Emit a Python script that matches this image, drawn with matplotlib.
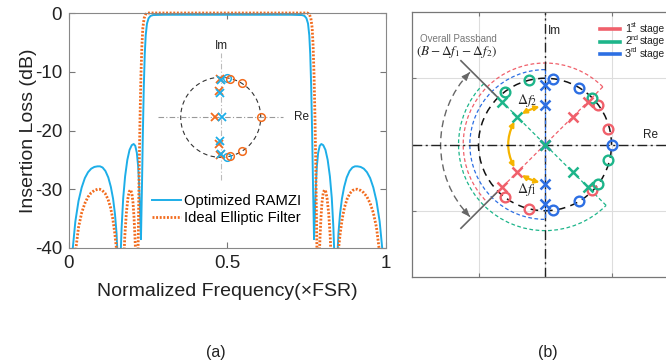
import numpy as np
import matplotlib.pyplot as plt
from matplotlib.patches import Rectangle, Circle, Arc, FancyArrowPatch
from matplotlib.lines import Line2D

plt.rcParams['font.family'] = ['Liberation Sans', 'DejaVu Sans']
plt.rcParams['mathtext.fontset'] = 'stix'
plt.rcParams['axes.unicode_minus'] = False

# ---------------- (a) data ----------------
freq_ramzi = [0.0, 0.012, 0.02, 0.03, 0.04, 0.05, 0.06, 0.07, 0.08, 0.09, 0.098, 0.106, 0.115,
              0.124, 0.132, 0.139, 0.145, 0.150, 0.153, 0.158, 0.163, 0.166, 0.171, 0.177, 0.184,
              0.191, 0.198, 0.204, 0.209, 0.214, 0.218, 0.221, 0.224, 0.227, 0.230, 0.233, 0.236,
              0.239, 0.242, 0.246, 0.251, 0.257, 0.265, 0.3,
              0.7, 0.735, 0.743, 0.749, 0.754, 0.758, 0.761, 0.764, 0.767, 0.770, 0.773, 0.776,
              0.779, 0.782, 0.786, 0.791, 0.796, 0.802, 0.809, 0.816, 0.823, 0.829, 0.834, 0.837,
              0.842, 0.847, 0.850, 0.855, 0.861, 0.868, 0.876, 0.885, 0.894, 0.902, 0.91, 0.92,
              0.93, 0.94, 0.95, 0.96, 0.97, 0.98, 0.988, 1.0]
loss_ramzi = [-60, -40, -35.5, -32, -29.7, -28.1, -27.1, -26.5, -26.2, -26.1, -26.1, -26.3, -26.9,
              -28.0, -29.6, -31.6, -34.2, -37.5, -41, -60, -41, -36.5, -31.5, -27.8, -25.0,
              -23.3, -22.5, -22.3, -22.6, -23.8, -26.0, -29, -33.5, -38.5, -30, -20.5, -12.5,
              -7, -3.8, -1.8, -0.9, -0.5, -0.35, -0.3,
              -0.3, -0.35, -0.5, -0.9, -1.8, -3.8, -7, -12.5, -20.5, -30, -38.5, -33.5,
              -29, -26.0, -23.8, -22.6, -22.3, -22.5, -23.3, -25.0, -27.8, -31.5, -36.5, -41,
              -60, -41, -37.5, -34.2, -31.6, -29.6, -28.0, -26.9, -26.3, -26.1, -26.1, -26.2,
              -26.5, -27.1, -28.1, -29.7, -32, -35.5, -40, -60]

freq_ellip = [0.0, 0.019, 0.022, 0.03, 0.04, 0.05, 0.06, 0.07, 0.08, 0.09, 0.097, 0.105, 0.114,
              0.123, 0.131, 0.138, 0.144, 0.149, 0.152, 0.163, 0.173, 0.176, 0.181, 0.186, 0.190,
              0.194, 0.198, 0.202, 0.205, 0.208, 0.211, 0.215, 0.218, 0.221, 0.224, 0.227, 0.230,
              0.233, 0.237, 0.242, 0.248, 0.3,
              0.7, 0.752, 0.758, 0.763, 0.767, 0.770, 0.773, 0.776, 0.779, 0.782, 0.785, 0.789,
              0.792, 0.795, 0.798, 0.802, 0.806, 0.810, 0.814, 0.819, 0.824, 0.827, 0.837, 0.848,
              0.851, 0.856, 0.862, 0.869, 0.877, 0.886, 0.895, 0.903, 0.91, 0.92, 0.93, 0.94,
              0.95, 0.96, 0.97, 0.978, 0.981, 1.0]
loss_ellip = [-60, -42, -40, -36.5, -34, -32.4, -31.3, -30.6, -30.2, -30.0, -30.0, -30.2, -30.7,
              -31.7, -33.1, -35, -37.3, -39.8, -42, -60, -42, -38, -34, -31.5, -30.4,
              -30.1, -30.6, -32.3, -34.7, -38, -42, -60, -40, -28, -18, -10.5, -5.5,
              -2.5, -0.9, -0.2, 0, 0,
              0, 0, -0.2, -0.9, -2.5, -5.5, -10.5, -18, -28, -40, -60, -42,
              -38, -34.7, -32.3, -30.6, -30.1, -30.4, -31.5, -34, -38, -42, -60, -42,
              -39.8, -37.3, -35, -33.1, -31.7, -30.7, -30.2, -30.0, -30.0, -30.2, -30.6, -31.3,
              -32.4, -34, -36.5, -40, -42, -60]

# inset pole/zero map (unit circle coordinates)
ell_zero_x = [0.22, 0.53, 1.0, 0.53, 0.22]
ell_zero_y = [0.97, 0.85, 0.0, -0.85, -0.97]
ram_zero_x = [0.15, 0.15]
ram_zero_y = [0.99, -0.99]
ell_pole_x = [-0.03, -0.04, -0.14, -0.04, -0.03]
ell_pole_y = [0.96, 0.67, 0.0, -0.67, -0.94]
ram_pole_x = [0.0, -0.01, 0.03, -0.01, 0.0]
ram_pole_y = [0.93, 0.60, 0.0, -0.60, -0.92]

# ---------------- (b) data ----------------
stage_names = ['1', '2', '3']
stage_sup = ['st', 'nd', 'rd']
stage_colors = ['#F0606B', '#1DB58A', '#2D6FE3']
stage_axis_deg = [45, 135, 90]        # direction of the pole line
stage_arc_r = [1.23, 1.30, 1.13]
zeros_x = [[0.79, 0.95, 0.70, -0.24, -0.60],
           [0.70, -0.24, -0.60, 0.95, 0.79],
           [0.125, 0.51, 1.0, 0.51, 0.125]]
zeros_y = [[0.59, 0.23, -0.69, -0.97, -0.79],
           [0.70, 0.97, 0.80, -0.23, -0.59],
           [0.99, 0.85, 0.0, -0.85, -0.99]]
poles_x = [[0.64, 0.42, 0.0, -0.42, -0.64],
           [-0.64, -0.42, 0.0, 0.42, 0.64],
           [0.0, 0.0, 0.0, 0.0, 0.0]]
poles_y = [[0.64, 0.42, 0.0, -0.42, -0.64],
           [0.64, 0.42, 0.0, -0.42, -0.64],
           [0.90, 0.59, 0.0, -0.59, -0.90]]
passband_edges_deg = [135, 225]
passband_arc_r = 1.57

blue = '#1DAEE8'
orange = '#F26B1D'
gold = '#F5B400'
W, H = 666, 364

fig = plt.figure(figsize=(6.66, 3.64), dpi=100)

# ================= panel (a) =================
axa = fig.add_axes([69 / W, (H - 248) / H, 317 / W, 235 / H])
clip = Rectangle((0, 0), 1, 1.02, transform=axa.transAxes)
l1, = axa.plot(freq_ramzi, loss_ramzi, color=blue, lw=1.4, label='Optimized RAMZI')
l2, = axa.plot(freq_ellip, loss_ellip, color=orange, lw=2.0, ls=(0, (0.7, 0.6)),
               label='Ideal Elliptic Filter')
for ln in (l1, l2):
    ln.set_clip_path(clip)
axa.set_xlim(0, 1)
axa.set_ylim(-40, 0)
axa.set_xticks([0, 0.5, 1])
axa.set_xticklabels(['0', '0.5', '1'])
axa.set_yticks([-40, -30, -20, -10, 0])
axa.tick_params(direction='in', length=4, top=True, right=True, labelsize=13.5,
                color='#777777', labelcolor='#222222', pad=5)
for s in axa.spines.values():
    s.set_color('#888888')
    s.set_linewidth(0.8)
axa.set_xlabel('Normalized Frequency(×FSR)', fontsize=14, color='#222222', labelpad=8)
axa.set_ylabel('Insertion Loss (dB)', fontsize=14, color='#222222', labelpad=-1.5)
axa.legend(loc='upper left', bbox_to_anchor=(152 / W, 1 - 194 / H), bbox_transform=fig.transFigure,
           frameon=False, fontsize=10.6, handlelength=2.0, handletextpad=0.2,
           labelspacing=0.22, borderpad=0, borderaxespad=0)

# inset pole/zero map
axi = fig.add_axes([156.7 / W, (H - 117.3 - 66) / H, 128 / W, 132 / H])
axi.set_xlim(-1.6, 1.6)
axi.set_ylim(-1.65, 1.65)
axi.axis('off')
axi.plot([-1.57, 1.56], [0, 0], color='#999999', lw=0.8, ls=(0, (5, 2, 1, 2)))
axi.plot([0, 0], [-1.57, 1.61], color='#bbbbbb', lw=0.8, ls=(0, (5, 2, 1, 2)))
axi.add_patch(Circle((0, 0), 1, fill=False, color='#333333', lw=0.8, ls=(0, (4, 3))))
axi.plot(ram_zero_x, ram_zero_y, 'o', mfc='none', mec=blue, ms=5.5, mew=1.1)
axi.plot(ell_zero_x, ell_zero_y, 'o', mfc='none', mec=orange, ms=5.5, mew=1.1)
axi.plot(ell_pole_x, ell_pole_y, 'x', color=orange, ms=6, mew=1.3)
axi.plot(ram_pole_x, ram_pole_y, 'x', color=blue, ms=6, mew=1.3)
axi.text(0.03, 1.78, 'Im', ha='center', va='center', fontsize=8.5, color='#222222', clip_on=False)
axi.text(1.83, 0.0, 'Re', ha='left', va='center', fontsize=8.5, color='#222222', clip_on=False)

# ================= panel (b) =================
axb = fig.add_axes([412 / W, (H - 277) / H, 266 / W, 265 / H])
axb.set_xlim(-2, 2)
axb.set_ylim(-2, 2)
axb.set_xticks([-1, 0, 1])
axb.set_yticks([-1, 0, 1])
axb.set_xticklabels([])
axb.set_yticklabels([])
axb.grid(True, color='#dddddd', lw=0.8)
axb.set_axisbelow(True)
axb.tick_params(direction='in', length=3, top=True, right=True, color='#777777')
for s in axb.spines.values():
    s.set_color('#777777')
    s.set_linewidth(0.9)

axb.axhline(0, color='#222222', lw=1.0, ls=(0, (7, 2.5, 1.5, 2.5)))
axb.axvline(0, color='#222222', lw=1.0, ls=(0, (7, 2.5, 1.5, 2.5)))
axb.add_patch(Circle((0, 0), 1, fill=False, color='#111111', lw=1.1, ls=(0, (5, 3.5))))

# stage guide lines and arcs
for c, a, r in zip(stage_colors, stage_axis_deg, stage_arc_r):
    t = np.deg2rad([a, a + 180])
    axb.plot(r * np.cos(t), r * np.sin(t), color=c, lw=0.9, ls=(0, (3, 2)))
    axb.add_patch(Arc((0, 0), 2 * r, 2 * r, theta1=a, theta2=a + 180, color=c, lw=0.9,
                      ls=(0, (3, 2))))

# overall passband
axb.add_patch(Arc((0, 0), 2 * passband_arc_r, 2 * passband_arc_r, theta1=passband_edges_deg[0] + 1,
                  theta2=passband_edges_deg[1] - 1, color='#666666', lw=1.0, ls=(0, (5, 3))))
for e, d in zip(passband_edges_deg, [1, -1]):
    tip = np.deg2rad(e + d)
    tail = np.deg2rad(e + 5 * d)
    axb.annotate('', xy=(passband_arc_r * np.cos(tip), passband_arc_r * np.sin(tip)),
                 xytext=(passband_arc_r * np.cos(tail), passband_arc_r * np.sin(tail)),
                 arrowprops=dict(arrowstyle='-|>,head_length=0.5,head_width=0.2',
                                 color='#666666', lw=0.8, shrinkA=0, shrinkB=0))
    t = np.deg2rad(e)
    axb.plot([0.98 * np.cos(t), 1.80 * np.cos(t)], [0.98 * np.sin(t), 1.80 * np.sin(t)],
             color='#666666', lw=1.2, solid_capstyle='butt')

# markers
for k in range(3):
    axb.plot(zeros_x[k], zeros_y[k], 'o', mfc='none', mec=stage_colors[k], ms=7, mew=1.7)
for k in [0, 2, 1]:
    axb.plot(poles_x[k], poles_y[k], 'x', color=stage_colors[k], ms=7.5, mew=1.8)

# frequency offset arrows
arrow_kw = dict(arrowstyle='<|-|>', mutation_scale=7, color=gold, lw=1.6, shrinkA=4, shrinkB=4)
axb.add_patch(FancyArrowPatch((poles_x[1][1], poles_y[1][1]), (poles_x[2][1], poles_y[2][1]),
                              connectionstyle='arc3,rad=-0.1', **arrow_kw))
axb.add_patch(FancyArrowPatch((poles_x[0][3], poles_y[0][3]), (poles_x[2][3], poles_y[2][3]),
                              connectionstyle='arc3,rad=0.1', **arrow_kw))
axb.add_patch(FancyArrowPatch((poles_x[1][1], poles_y[1][1]), (poles_x[0][3], poles_y[0][3]),
                              connectionstyle='arc3,rad=0.3', **arrow_kw))
axb.text(-0.27, 0.66, r'$\Delta f_2$', fontsize=10, ha='center', va='center', color='#222222')
axb.text(-0.27, -0.68, r'$\Delta f_1$', fontsize=10, ha='center', va='center', color='#222222')

axb.text(-1.88, 1.60, 'Overall Passband', fontsize=7, color='#777777', ha='left', va='center')
axb.text(-1.33, 1.39, r'$(B-\Delta f_1-\Delta f_2)$', fontsize=9.5, color='#222222',
         ha='center', va='center')
axb.text(0.05, 1.72, 'Im', fontsize=8.5, ha='left', va='center', color='#222222')
axb.text(1.47, 0.14, 'Re', fontsize=8.5, ha='left', va='center', color='#222222')

# stage legend (drawn by hand to keep the tight row spacing)
for i, (n, s, c) in enumerate(zip(stage_names, stage_sup, stage_colors)):
    yy = 1 - (29.3 + 12.2 * i) / H
    fig.add_artist(Line2D([600 / W, 620 / W], [yy, yy], transform=fig.transFigure,
                          color=c, lw=2.6))
    fig.text(625 / W, yy, n, fontsize=7.8, ha='left', va='center', color='#222222')
    fig.text(630.5 / W, yy + 3.5 / H, s, fontsize=5.2, ha='left', va='center', color='#222222')
    fig.text(640 / W, yy, 'stage', fontsize=7.4, ha='left', va='center', color='#222222')

fig.text(216 / W, 1 - 352 / H, '(a)', ha='center', va='center', fontsize=11.5, color='#222222')
fig.text(548 / W, 1 - 352 / H, '(b)', ha='center', va='center', fontsize=11.5, color='#222222')

fig.savefig('out.png', dpi=100)
